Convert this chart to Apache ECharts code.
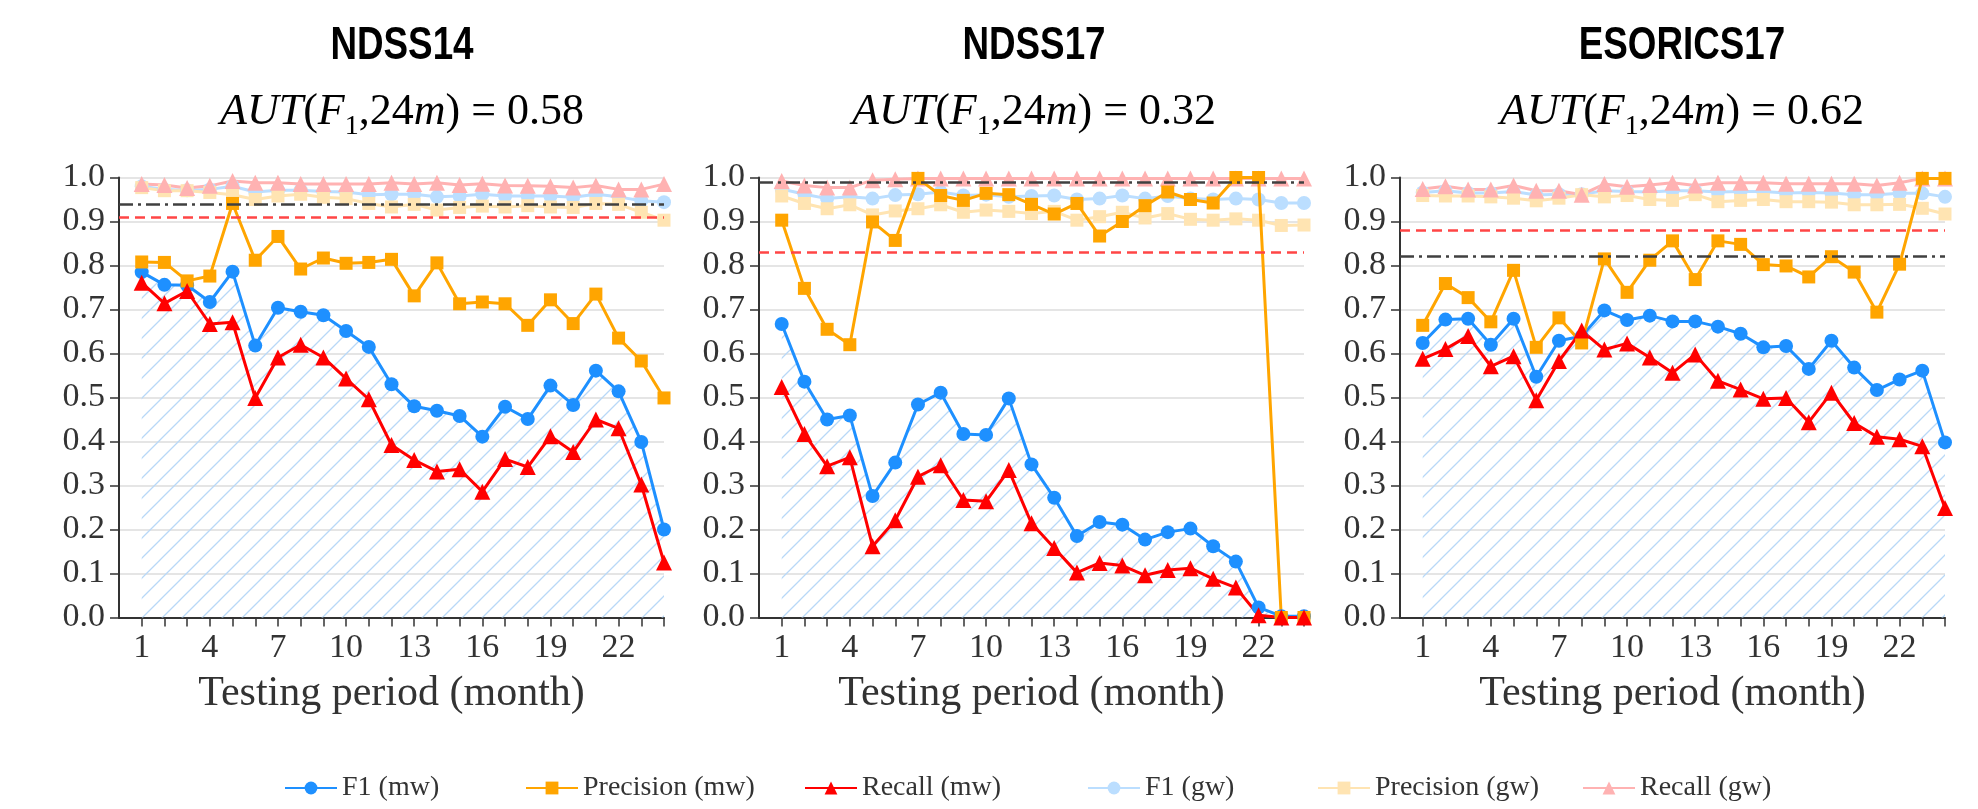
<!DOCTYPE html>
<html>
<head>
<meta charset="utf-8">
<script src="https://cdn.jsdelivr.net/npm/echarts@6/dist/echarts.min.js"></script>
<style>
  html, body { margin: 0; padding: 0; background: #fff; }
  #main { width: 1978px; height: 809px; }
</style>
</head>
<body>
<div id="main"></div>
<script>
// months on the x axis
const months = [1,2,3,4,5,6,7,8,9,10,11,12,13,14,15,16,17,18,19,20,21,22,23,24];
const monthLabels = [1,4,7,10,13,16,19,22];

// panel titles
const panelNames = ['NDSS14', 'NDSS17', 'ESORICS17'];
const autValues = ['0.58', '0.32', '0.62'];

// NDSS14
const f1Mw14 = [0.785,0.756,0.755,0.717,0.786,0.618,0.704,0.695,0.687,0.651,0.615,0.530,0.480,0.470,0.458,0.411,0.479,0.451,0.527,0.483,0.561,0.514,0.399,0.200];
const precMw14 = [0.808,0.807,0.765,0.776,0.941,0.812,0.866,0.792,0.817,0.805,0.807,0.814,0.731,0.806,0.713,0.717,0.713,0.664,0.722,0.668,0.735,0.635,0.583,0.499];
const recMw14 = [0.761,0.714,0.742,0.667,0.671,0.499,0.591,0.620,0.591,0.543,0.496,0.392,0.358,0.332,0.337,0.286,0.360,0.342,0.412,0.376,0.450,0.430,0.302,0.125];
const f1Gw14 = [0.980,0.973,0.971,0.973,0.980,0.967,0.971,0.971,0.968,0.967,0.961,0.962,0.962,0.956,0.958,0.962,0.958,0.958,0.958,0.955,0.962,0.956,0.947,0.944];
const precGw14 = [0.977,0.970,0.970,0.966,0.961,0.950,0.958,0.962,0.955,0.952,0.941,0.933,0.939,0.926,0.932,0.935,0.933,0.936,0.933,0.932,0.941,0.939,0.921,0.903];
const recGw14 = [0.985,0.983,0.976,0.981,0.992,0.988,0.988,0.985,0.985,0.985,0.985,0.988,0.985,0.988,0.983,0.986,0.982,0.981,0.980,0.977,0.982,0.973,0.973,0.985];

// NDSS17
const f1Mw17 = [0.667,0.536,0.450,0.459,0.276,0.352,0.484,0.511,0.417,0.415,0.498,0.348,0.272,0.185,0.217,0.211,0.177,0.194,0.202,0.162,0.127,0.023,0.003,0.003];
const precMw17 = [0.903,0.748,0.655,0.620,0.899,0.857,0.998,0.959,0.948,0.964,0.961,0.939,0.917,0.941,0.867,0.900,0.936,0.967,0.950,0.942,1.000,1.000,0.000,0.000];
const recMw17 = [0.524,0.417,0.344,0.364,0.162,0.221,0.320,0.346,0.267,0.264,0.335,0.214,0.158,0.102,0.124,0.118,0.096,0.108,0.112,0.088,0.068,0.005,0.000,0.000];
const f1Gw17 = [0.974,0.962,0.952,0.956,0.952,0.960,0.962,0.967,0.959,0.961,0.956,0.958,0.959,0.950,0.952,0.959,0.952,0.958,0.952,0.950,0.952,0.950,0.942,0.942];
const precGw17 = [0.958,0.941,0.929,0.938,0.915,0.924,0.929,0.938,0.921,0.926,0.923,0.918,0.923,0.903,0.911,0.921,0.908,0.918,0.905,0.903,0.906,0.903,0.891,0.892];
const recGw17 = [0.992,0.982,0.977,0.977,0.994,0.996,0.998,0.998,0.998,0.998,0.998,0.998,0.998,0.998,0.998,0.998,0.998,0.998,0.998,0.998,0.998,0.998,0.998,0.998];

// ESORICS17
const f1MwEs = [0.624,0.677,0.679,0.620,0.679,0.547,0.629,0.639,0.698,0.676,0.686,0.673,0.673,0.661,0.645,0.614,0.617,0.565,0.629,0.568,0.517,0.541,0.561,0.398];
const precMwEs = [0.664,0.759,0.727,0.672,0.789,0.614,0.681,0.624,0.815,0.739,0.812,0.856,0.768,0.856,0.848,0.802,0.799,0.774,0.820,0.785,0.694,0.803,0.998,0.998];
const recMwEs = [0.588,0.610,0.640,0.571,0.594,0.494,0.583,0.652,0.609,0.623,0.591,0.556,0.598,0.538,0.518,0.497,0.499,0.444,0.511,0.442,0.411,0.405,0.389,0.249];
const f1GwEs = [0.966,0.970,0.965,0.965,0.968,0.960,0.962,0.962,0.970,0.968,0.967,0.970,0.970,0.967,0.968,0.968,0.965,0.966,0.965,0.961,0.961,0.964,0.964,0.956];
const precGwEs = [0.959,0.958,0.958,0.956,0.953,0.947,0.953,0.961,0.956,0.959,0.950,0.948,0.961,0.945,0.948,0.950,0.945,0.945,0.944,0.938,0.938,0.939,0.930,0.917];
const recGwEs = [0.974,0.980,0.973,0.973,0.982,0.970,0.970,0.961,0.985,0.979,0.983,0.988,0.982,0.988,0.988,0.988,0.986,0.986,0.986,0.986,0.982,0.988,0.998,0.998];

// reference lines (red dashed, black dash-dot)
const redLines = [0.905, 0.827, 0.883];
const blackLines = [0.939, 0.989, 0.824];

const panels = [
  { f1Mw: f1Mw14, precMw: precMw14, recMw: recMw14, f1Gw: f1Gw14, precGw: precGw14, recGw: recGw14 },
  { f1Mw: f1Mw17, precMw: precMw17, recMw: recMw17, f1Gw: f1Gw17, precGw: precGw17, recGw: recGw17 },
  { f1Mw: f1MwEs, precMw: precMwEs, recMw: recMwEs, f1Gw: f1GwEs, precGw: precGwEs, recGw: recGwEs }
];

const gridLefts = [119, 759, 1400];
const titleCenters = [402, 1034, 1682];
const serif = 'Liberation Serif';

// hatch pattern for the area under F1 (mw)
function makeHatch() {
  const c = document.createElement('canvas');
  c.width = 20; c.height = 20;
  const ctx = c.getContext('2d');
  ctx.strokeStyle = '#b8d8f7';
  ctx.lineWidth = 1.3;
  ctx.beginPath();
  ctx.moveTo(0, 20); ctx.lineTo(20, 0);
  ctx.moveTo(-5, 5); ctx.lineTo(5, -5);
  ctx.moveTo(15, 25); ctx.lineTo(25, 15);
  ctx.stroke();
  return c;
}
const hatch = makeHatch();

function pairs(vals) {
  return months.map((m, i) => [m, vals[i]]);
}

const grids = [], xAxes = [], yAxes = [], series = [], texts = [];

panels.forEach((p, k) => {
  grids.push({ left: gridLefts[k], top: 177.5, width: 545, height: 440 });
  xAxes.push({
    type: 'value', gridIndex: k, min: 0, max: 24,
    name: 'Testing period (month)', nameLocation: 'middle', nameGap: 55,
    nameTextStyle: { fontFamily: serif, fontSize: 42, color: '#333' },
    axisLine: { lineStyle: { color: '#333', width: 2 } },
    axisTick: { customValues: months, length: 9, lineStyle: { color: '#333', width: 1.5 } },
    axisLabel: { customValues: monthLabels, fontFamily: serif, fontSize: 34, color: '#333', margin: 14 },
    splitLine: { show: false }
  });
  yAxes.push({
    type: 'value', gridIndex: k, min: 0, max: 1, interval: 0.1,
    axisLine: { show: true, lineStyle: { color: '#333', width: 2 } },
    axisTick: { show: true, length: 9, lineStyle: { color: '#333', width: 1.5 } },
    axisLabel: { fontFamily: serif, fontSize: 34, color: '#333', margin: 14,
      formatter: v => v.toFixed(1) },
    splitLine: { show: true, lineStyle: { color: '#dcdcdc', width: 1.5 } }
  });

  // bold condensed panel name (squeezed horizontally)
  texts.push({
    type: 'text', x: titleCenters[k], y: 46, scaleX: 0.8, silent: true,
    style: { text: panelNames[k], fontFamily: 'Liberation Sans',
      fontWeight: 'bold', fontSize: 46, fill: '#000', align: 'center', verticalAlign: 'middle' }
  });
  // AUT(F1,24m) = value, italic math with a subscript
  texts.push({
    type: 'text', x: titleCenters[k], y: 112, silent: true,
    style: {
      text: '{it|AUT}{rm|(}{it|F}{sub|1}{rm|,24}{it|m}{rm|) = ' + autValues[k] + '}',
      align: 'center', verticalAlign: 'middle', fill: '#000',
      fontFamily: serif, fontSize: 44,
      rich: {
        it: { fontFamily: serif, fontStyle: 'italic', fontSize: 44, lineHeight: 58, fill: '#000', verticalAlign: 'middle' },
        rm: { fontFamily: serif, fontStyle: 'normal', fontSize: 44, lineHeight: 58, fill: '#000', verticalAlign: 'middle' },
        sub: { fontFamily: serif, fontStyle: 'normal', fontSize: 28, lineHeight: 28, fill: '#000', verticalAlign: 'bottom' }
      }
    }
  });

  const common = { xAxisIndex: k, yAxisIndex: k, type: 'line', lineStyle: { width: 3 }, animation: false };
  // gw lines first, faint
  series.push(Object.assign({}, common, { name: 'F1 (gw)', data: pairs(p.f1Gw), symbol: 'circle', symbolSize: 14, color: '#bbdeff', z: 2 }));
  series.push(Object.assign({}, common, { name: 'Precision (gw)', data: pairs(p.precGw), symbol: 'rect', symbolSize: 13, color: '#ffe4b2', z: 2 }));
  series.push(Object.assign({}, common, { name: 'Recall (gw)', data: pairs(p.recGw), symbol: 'triangle', symbolSize: 16, color: '#ffb2b2', z: 2 }));

  // horizontal reference lines
  series.push({
    type: 'line', xAxisIndex: k, yAxisIndex: k, data: [], z: 3, silent: true,
    markLine: {
      silent: true, symbol: 'none', label: { show: false }, animation: false,
      data: [
        { yAxis: redLines[k], lineStyle: { color: '#ff4545', width: 2.5, type: [10, 6] } },
        { yAxis: blackLines[k], lineStyle: { color: '#404040', width: 2.5, type: [14, 5, 3, 5] } }
      ]
    }
  });

  series.push(Object.assign({}, common, { name: 'F1 (mw)', data: pairs(p.f1Mw), symbol: 'circle', symbolSize: 14, color: '#1e90ff', z: 4,
    areaStyle: { color: { image: hatch, repeat: 'repeat' }, opacity: 1 } }));
  series.push(Object.assign({}, common, { name: 'Precision (mw)', data: pairs(p.precMw), symbol: 'rect', symbolSize: 13, color: '#ffa500', z: 4 }));
  series.push(Object.assign({}, common, { name: 'Recall (mw)', data: pairs(p.recMw), symbol: 'triangle', symbolSize: 16, color: '#ff0000', z: 4 }));
});

// one legend per item so each sits where it does in the figure
const legendNames = ['F1 (mw)', 'Precision (mw)', 'Recall (mw)', 'F1 (gw)', 'Precision (gw)', 'Recall (gw)'];
const legendLefts = [279, 520, 799, 1082, 1312, 1577];
const legends = legendNames.map((n, i) => ({
  data: [n], left: legendLefts[i], top: 769, itemWidth: 52, itemHeight: 16,
  textStyle: { fontFamily: serif, fontSize: 28, color: '#333' }, selectedMode: false
}));

const Chart = echarts.init(document.getElementById('main'));
Chart.setOption({
  animation: false,
  legend: legends,
  graphic: texts,
  grid: grids,
  xAxis: xAxes,
  yAxis: yAxes,
  series: series
});
</script>
</body>
</html>
